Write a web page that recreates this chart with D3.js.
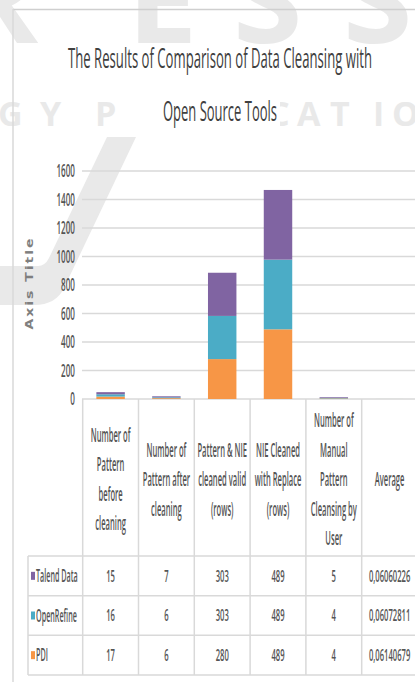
<!DOCTYPE html>
<html>
<head>
<meta charset="utf-8">
<script src="https://cdn.jsdelivr.net/npm/d3@7"></script>
<style>
  body { margin: 0; background: #fff; }
  text { font-family: "Open Sans", sans-serif; }
</style>
</head>
<body>
<script>
var w = 415;
var h = 682;

// data
var categories = ["before", "after", "valid", "replace", "manual", "average"];
var categoryLines = [
  ["Number of", "Pattern", "before", "cleaning"],
  ["Number of", "Pattern after", "cleaning"],
  ["Pattern & NIE", "cleaned valid", "(rows)"],
  ["NIE Cleaned", "with Replace", "(rows)"],
  ["Number of", "Manual", "Pattern", "Cleansing by", "User"],
  ["Average"]
];
var seriesNames = ["Talend Data", "OpenRefine", "PDI"];
var talend = [15, 7, 303, 489, 5, 0.06060226];
var openRefine = [16, 6, 303, 489, 4, 0.06072811];
var pdi = [17, 6, 280, 489, 4, 0.06140679];
var yTicks = [0, 200, 400, 600, 800, 1000, 1200, 1400, 1600];
var titleLines = ["The Results of Comparison of Data Cleansing with", "Open Source Tools"];

var colors = { "Talend Data": "#8064a2", "OpenRefine": "#4bacc6", "PDI": "#f79646" };
var seriesValues = { "Talend Data": talend, "OpenRefine": openRefine, "PDI": pdi };

var SX = 0.38;   // horizontal squeeze of word labels
var SXN = 0.45;  // horizontal squeeze of numbers
var grey = "#d9d9d9";
var textCol = "#555";

var svg = d3.select("body")
  .append("svg")
  .attr("width", w)
  .attr("height", h);

// watermark in the background
var wm = svg.append("g").attr("fill", "#e9e9e9")
  .style("font-family", "DejaVu Sans").style("font-weight", "bold");
wm.append("text")
  .attr("transform", "scale(1.05,1)")
  .attr("x", [-45, 127, 233, 343].map(function(v) { return v / 1.05; }).join(" "))
  .attr("y", 43)
  .style("font-size", "120px")
  .text("RESS");
wm.append("text")
  .attr("x", [-2, 40, 95, 140, 268, 297, 330, 373, 392].join(" "))
  .attr("y", 126)
  .style("font-size", "34px")
  .text("GYPUCATIO");
wm.append("path")
  .attr("d", "M107,137 L136,137 L64,288 Q56,305 34,305 L0,305 L0,266 L38,266 Q45,266 49,258 Z");
// white patch behind the second title line
svg.append("rect").attr("x", 128).attr("y", 95).attr("width", 152).attr("height", 40).attr("fill", "#fff");

// frame
svg.append("line").attr("x1", 13).attr("x2", w).attr("y1", 9.5).attr("y2", 9.5)
  .attr("stroke", "#cfcfcf").attr("stroke-width", 1.5);
svg.append("line").attr("x1", 13).attr("x2", 13).attr("y1", 9).attr("y2", h)
  .attr("stroke", grey).attr("stroke-width", 1.5);

// title
svg.selectAll(".title")
  .data(titleLines)
  .enter()
  .append("text")
  .classed("title", true)
  .attr("x", function(d, i) { return i == 0 ? 68 : 163; })
  .attr("y", function(d, i) { return 68 + i * 53; })
  .attr("textLength", function(d, i) { return i == 0 ? 304 : 114; })
  .attr("lengthAdjust", "spacingAndGlyphs")
  .attr("fill", "#404040")
  .style("font-size", "28px")
  .text(function(d) { return d; });

var x = d3.scaleBand()
  .domain(categories)
  .range([82.7, 82.7 + 6 * 55.8])
  .paddingInner(0.49)
  .paddingOuter(0.245);

var y = d3.scaleLinear()
  .domain([0, 1600])
  .range([399, 171]);

// grid
svg.selectAll(".grid")
  .data(yTicks)
  .enter()
  .append("line")
  .classed("grid", true)
  .attr("x1", 82).attr("x2", w)
  .attr("y1", function(d) { return y(d); })
  .attr("y2", function(d) { return y(d); })
  .attr("stroke", grey)
  .attr("stroke-width", 1.5);

// y tick labels
svg.selectAll(".ytick")
  .data(yTicks)
  .enter()
  .append("text")
  .classed("ytick", true)
  .attr("transform", function(d) { return "translate(75," + y(d) + ") scale(" + SXN + ",1)"; })
  .attr("text-anchor", "end")
  .attr("dy", "0.35em")
  .attr("fill", textCol)
  .style("font-size", "18px")
  .style("font-weight", 600)
  .text(function(d) { return d; });

// axis title
svg.append("text")
  .attr("transform", "translate(33,283) rotate(-90) scale(1,0.75)")
  .attr("text-anchor", "middle")
  .attr("fill", "#7f7f7f")
  .style("font-family", "DejaVu Sans")
  .style("font-weight", "bold")
  .style("font-size", "14px")
  .style("letter-spacing", "2px")
  .text("Axis Title");

// stacked bars
var rows = categories.map(function(c, i) {
  return { cat: c, "Talend Data": talend[i], "OpenRefine": openRefine[i], "PDI": pdi[i] };
});
var stack = d3.stack().keys(["PDI", "OpenRefine", "Talend Data"])(rows);

svg.selectAll(".layer")
  .data(stack)
  .enter()
  .append("g")
  .classed("layer", true)
  .attr("fill", function(d) { return colors[d.key]; })
  .selectAll("rect")
  .data(function(d) { return d; })
  .enter()
  .append("rect")
  .attr("x", function(d) { return x(d.data.cat); })
  .attr("y", function(d) { return y(d[1]); })
  .attr("width", x.bandwidth())
  .attr("height", function(d) { return y(d[0]) - y(d[1]); });

// data table
var tableLeft = 28;
var rowY = d3.scaleBand()
  .domain(seriesNames)
  .range([556, 675]);

var lines = svg.append("g").attr("stroke", grey).attr("stroke-width", 1.5);
// vertical separators
var bounds = categories.map(function(c) { return x(c) - x.step() * x.paddingOuter(); });
bounds.push(bounds[bounds.length - 1] + x.step());
lines.selectAll(".vline")
  .data(bounds)
  .enter()
  .append("line")
  .attr("x1", function(d) { return d; })
  .attr("x2", function(d) { return d; })
  .attr("y1", 399).attr("y2", 675);
lines.append("line").attr("x1", tableLeft).attr("x2", tableLeft).attr("y1", 556).attr("y2", 675);
// horizontal lines
var hl = seriesNames.map(function(s) { return rowY(s); });
hl.push(675);
lines.selectAll(".hline")
  .data(hl)
  .enter()
  .append("line")
  .attr("x1", tableLeft).attr("x2", w)
  .attr("y1", function(d) { return d; })
  .attr("y2", function(d) { return d; });

// category labels
var lineH = 29.5;
var catG = svg.selectAll(".cat")
  .data(categoryLines)
  .enter()
  .append("g")
  .classed("cat", true);
catG.selectAll("text")
  .data(function(d, i) {
    return d.map(function(t, j) { return { t: t, j: j, n: d.length, c: categories[i] }; });
  })
  .enter()
  .append("text")
  .attr("transform", function(d) {
    var cy = 479 + (d.j - (d.n - 1) / 2) * lineH;
    return "translate(" + (x(d.c) + x.bandwidth() / 2) + "," + cy + ") scale(" + SX + ",1)";
  })
  .attr("text-anchor", "middle")
  .attr("dy", "0.35em")
  .attr("fill", textCol)
  .style("font-size", "20px")
  .style("font-weight", 600)
  .text(function(d) { return d.t; });

// row headers
var rowHead = svg.selectAll(".rowhead")
  .data(seriesNames)
  .enter()
  .append("g")
  .classed("rowhead", true)
  .attr("transform", function(d) { return "translate(0," + (rowY(d) + rowY.bandwidth() / 2) + ")"; });
rowHead.append("rect")
  .attr("x", 31).attr("y", -4)
  .attr("width", 4).attr("height", 8)
  .attr("fill", function(d) { return colors[d]; });
rowHead.append("text")
  .attr("transform", "translate(36,0) scale(0.4,1)")
  .attr("dy", "0.35em")
  .attr("fill", textCol)
  .style("font-size", "18px")
  .style("font-weight", 600)
  .text(function(d) { return d; });

// cell values
seriesNames.forEach(function(s) {
  svg.selectAll(".cell-" + s.replace(" ", ""))
    .data(seriesValues[s])
    .enter()
    .append("text")
    .attr("transform", function(d, i) {
      return "translate(" + (x(categories[i]) + x.bandwidth() / 2) + "," + (rowY(s) + rowY.bandwidth() / 2) + ") scale(" + SXN + ",1)";
    })
    .attr("text-anchor", "middle")
    .attr("dy", "0.35em")
    .attr("fill", textCol)
    .style("font-size", "17px")
    .style("font-weight", 600)
    .text(function(d) { return String(d).replace(".", ","); });
});
</script>
</body>
</html>
